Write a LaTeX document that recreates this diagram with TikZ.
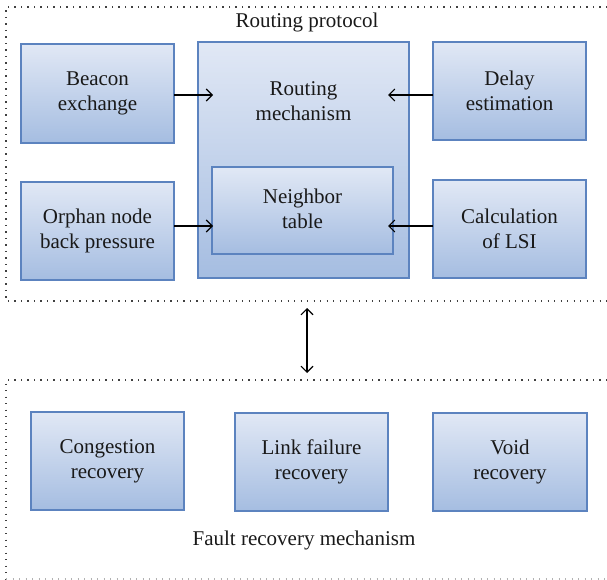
\documentclass[tikz,border=0pt]{standalone}
\usepackage{fontspec}
\setmainfont{Liberation Serif}
\usetikzlibrary{arrows.meta,calc}
\definecolor{boxtop}{RGB}{225,232,245}
\definecolor{boxbot}{RGB}{165,189,225}
\definecolor{boxline}{RGB}{92,131,191}
\definecolor{txt}{RGB}{25,25,25}
\tikzset{
  blockbox/.style={rectangle, draw=boxline, line width=1.1pt, top color=boxtop, bottom color=boxbot,
    align=center, text=txt, inner sep=0pt},
  lbl/.style={align=center, text=txt, font=\fontsize{21}{25}\selectfont, inner sep=0pt},
  arr/.style={line width=1.1pt, -{Straight Barb[length=6pt,width=12pt,line width=1.1pt]}},
  darr/.style={line width=1.1pt, {Straight Barb[length=6pt,width=12pt,line width=1.1pt]}-{Straight Barb[length=6pt,width=12pt,line width=1.1pt]}},
  frame/.style={line width=1.3pt, dash pattern=on 1.3pt off 5.2pt, draw=black!75}
}
\begin{document}
\begin{tikzpicture}[x=1pt,y=-1pt]
\useasboundingbox (0,0) rectangle (607,580);
% frames
\draw[frame] (620,7) -- (6,7) -- (6,301) -- (620,301);
\draw[frame] (620,380) -- (6,380) -- (6,579);
\draw[frame, draw=black!30] (6,579) -- (620,579);
\node[lbl] (rp) at (307,22) {Routing protocol};
\node[lbl] (fr) at (304,540) {Fault recovery mechanism};
% top boxes
\node[blockbox, minimum width=153pt, minimum height=99pt] (beacon) at (97.5,93.5) {};
\node[lbl] at (beacon) {Beacon\\exchange};
\node[blockbox, minimum width=153pt, minimum height=98pt] (orphan) at (97.5,231) {};
\node[lbl] at (orphan) {Orphan node\\back pressure};
\node[blockbox, minimum width=211pt, minimum height=236pt] (routing) at (303.5,160) {};
\node[lbl] (rmtext) at (303.5,101) {Routing\\mechanism};
\node[blockbox, minimum width=181pt, minimum height=87pt] (neighbor) at (302.5,210.5) {};
\node[lbl] at (302.5,209) {Neighbor\\table};
\node[blockbox, minimum width=153pt, minimum height=98pt] (delay) at (509.5,91) {};
\node[lbl] at (delay) {Delay\\estimation};
\node[blockbox, minimum width=153pt, minimum height=98pt] (calc) at (509.5,229) {};
\node[lbl] at (calc) {Calculation\\of LSI};
% bottom boxes
\node[blockbox, minimum width=153pt, minimum height=98pt] (cong) at (107.5,461) {};
\node[lbl] at (cong) {Congestion\\recovery};
\node[blockbox, minimum width=153pt, minimum height=98pt] (link) at (311.5,462) {};
\node[lbl] at (link) {Link failure\\recovery};
\node[blockbox, minimum width=154pt, minimum height=98pt] (void) at (510,462) {};
\node[lbl] at (void) {Void\\recovery};
% arrow endpoints
\coordinate (bA) at (174,95);
\coordinate (bB) at (213,95);
\coordinate (oA) at (174,226);
\coordinate (oB) at (213,226);
\coordinate (dA) at (433,95);
\coordinate (dB) at (388,95);
\coordinate (cA) at (433,226);
\coordinate (cB) at (388,226);
\coordinate (vT) at (307,308);
\coordinate (vB) at (307,373);
\draw[arr] (bA) -- (bB);
\draw[arr] (oA) -- (oB);
\draw[arr] (dA) -- (dB);
\draw[arr] (cA) -- (cB);
\draw[darr] (vT) -- (vB);
\end{tikzpicture}
\end{document}
